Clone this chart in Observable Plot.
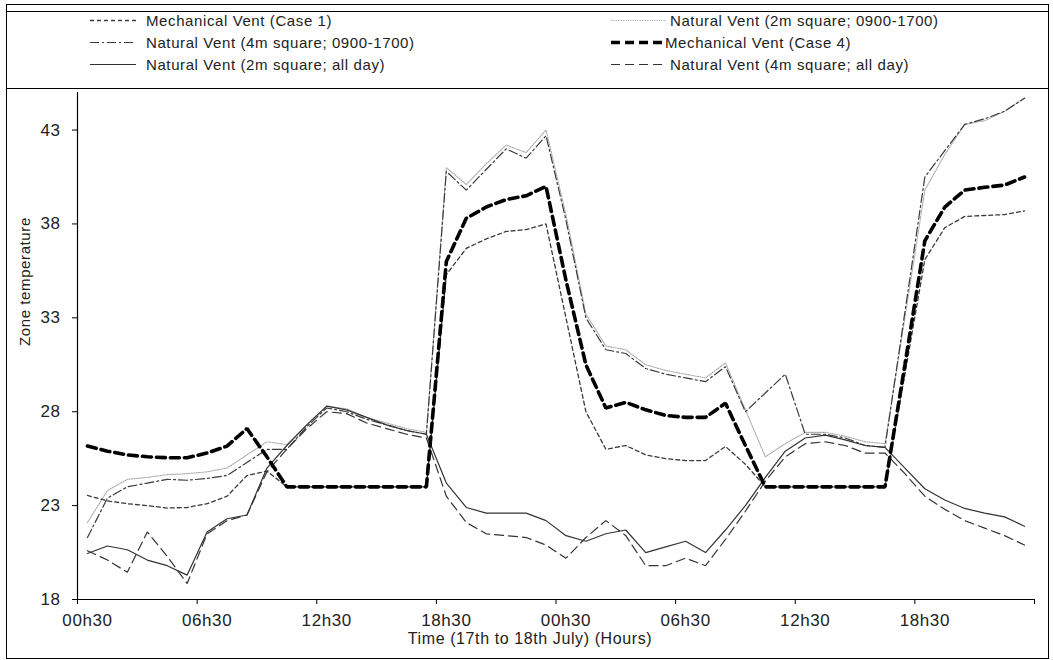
<!DOCTYPE html>
<html>
<head>
<meta charset="utf-8">
<script src="https://cdn.jsdelivr.net/npm/d3@7"></script>
<script src="https://cdn.jsdelivr.net/npm/@observablehq/plot@0.6"></script>
<style>
  html, body { margin: 0; padding: 0; background: #fff; }
  #page { position: relative; width: 1053px; height: 660px; overflow: hidden; background: #fff;
          font-family: "Liberation Sans", Arial, sans-serif; color: #222; }
  #outer { position: absolute; left: 6px; top: 4px; width: 1043px; height: 655px; border: 1px solid #000; box-sizing: border-box; }
  #legend { position: absolute; left: 6px; top: 11px; width: 1043px; height: 78px; border: 1px solid #000; box-sizing: border-box; background: #fff; }
  .item { position: absolute; height: 20px; display: flex; align-items: center; font-size: 15px; letter-spacing: 0.6px; white-space: nowrap; }
  .item svg { display: block; }
  #chart { position: absolute; left: 0; top: 88px; }
</style>
</head>
<body>
<div id="page">
  <div id="outer"></div>
  <div id="legend"></div>
  <div id="chart"></div>
</div>
<script>
// ---- data (hourly, 00h30 17th July to 23h30 18th July) ----
const xTickLabels = ["00h30", "06h30", "12h30", "18h30", "00h30", "06h30", "12h30", "18h30"];
const yTicks = [18, 23, 28, 33, 38, 43];

const seriesNames = [
  "Mechanical Vent (Case 1)",
  "Natural Vent (2m square; 0900-1700)",
  "Natural Vent (4m square; 0900-1700)",
  "Mechanical Vent (Case 4)",
  "Natural Vent (2m square; all day)",
  "Natural Vent (4m square; all day)"
];

const mechCase1 = [23.54, 23.25, 23.1, 23.0, 22.87, 22.9, 23.1, 23.5, 24.6, 24.84, 24.0, 24.0,
  24.0, 24.0, 24.0, 24.0, 24.0, 24.0, 35.3, 36.7, 37.2, 37.6, 37.7, 38.0,
  33.0, 28.0, 26.0, 26.2, 25.7, 25.5, 25.4, 25.4, 26.15, 25.2, 24.0, 24.0,
  24.0, 24.0, 24.0, 24.0, 24.0, 30.0, 36.1, 37.8, 38.4, 38.45, 38.5, 38.7];

const nat2mDay = [22.1, 23.8, 24.4, 24.5, 24.65, 24.7, 24.8, 25.0, 25.7, 26.4, 26.25, 27.3,
  28.3, 28.15, 27.7, 27.4, 27.1, 26.9, 41.0, 40.1, 41.2, 42.2, 41.8, 43.0,
  38.5, 33.2, 31.5, 31.3, 30.5, 30.2, 30.0, 29.8, 30.6, 28.1, 25.6, 26.3,
  26.9, 26.9, 26.7, 26.4, 26.3, 33.0, 39.8, 41.7, 43.3, 43.5, 44.0, 44.7];

const nat4mDay = [21.3, 23.4, 24.0, 24.2, 24.4, 24.35, 24.45, 24.6, 25.3, 26.0, 26.0, 27.2,
  28.2, 28.0, 27.6, 27.3, 27.0, 26.8, 40.8, 39.8, 40.9, 42.0, 41.5, 42.7,
  38.2, 33.0, 31.3, 31.1, 30.3, 30.0, 29.8, 29.6, 30.4, 28.0, 29.0, 30.0,
  26.8, 26.8, 26.6, 26.2, 26.1, 33.3, 40.5, 41.9, 43.3, 43.6, 44.0, 44.7];

const mechCase4 = [26.17, 25.9, 25.7, 25.6, 25.55, 25.55, 25.8, 26.17, 27.1, 25.6, 24.0, 24.0,
  24.0, 24.0, 24.0, 24.0, 24.0, 24.0, 36.0, 38.3, 38.9, 39.3, 39.5, 40.0,
  35.0, 30.5, 28.2, 28.5, 28.1, 27.8, 27.7, 27.7, 28.45, 26.2, 24.0, 24.0,
  24.0, 24.0, 24.0, 24.0, 24.0, 30.5, 37.1, 38.9, 39.8, 39.95, 40.07, 40.5];

const nat2mAll = [20.45, 20.85, 20.65, 20.1, 19.8, 19.3, 21.6, 22.3, 22.5, 25.0, 26.2, 27.3,
  28.3, 28.1, 27.7, 27.3, 27.0, 26.8, 24.2, 22.9, 22.6, 22.6, 22.6, 22.2,
  21.4, 21.1, 21.5, 21.7, 20.5, 20.8, 21.1, 20.5, 21.7, 23.0, 24.5, 25.9,
  26.6, 26.75, 26.5, 26.2, 26.1, 25.0, 23.9, 23.3, 22.85, 22.6, 22.4, 21.9];

const nat4mAll = [20.6, 20.1, 19.45, 21.6, 20.3, 18.85, 21.5, 22.2, 22.5, 24.8, 26.0, 27.1,
  28.0, 27.9, 27.4, 27.1, 26.8, 26.6, 23.5, 22.1, 21.5, 21.4, 21.3, 20.9,
  20.2, 21.3, 22.2, 21.4, 19.8, 19.8, 20.2, 19.8, 21.2, 22.7, 24.3, 25.6,
  26.3, 26.4, 26.2, 25.8, 25.8, 24.7, 23.5, 22.8, 22.2, 21.8, 21.4, 20.9];

const seriesValues = [mechCase1, nat2mDay, nat4mDay, mechCase4, nat2mAll, nat4mAll];

// ---- styles ----
const styles = [
  {stroke: "#3a3a3a", strokeWidth: 1.3, dash: "4,3"},
  {stroke: "#a8a8a8", strokeWidth: 1.1, dash: "1.2,1.2"},
  {stroke: "#3a3a3a", strokeWidth: 1.2, dash: "9,3,2,3"},
  {stroke: "#000000", strokeWidth: 3.6, dash: "9,5"},
  {stroke: "#333333", strokeWidth: 1.2, dash: null},
  {stroke: "#333333", strokeWidth: 1.2, dash: "9,5"}
];

// ---- legend ----
const legend = document.getElementById("legend");
const legendPos = [
  {left: 83, top: -2}, {left: 604, top: -2},
  {left: 83, top: 20}, {left: 604, top: 20},
  {left: 83, top: 42}, {left: 604, top: 42}
];
const sampleW = [[46, 10], [54, 5], [46, 10], [54, 0], [46, 10], [56, 3]];
seriesNames.forEach((name, k) => {
  const s = styles[k];
  const div = document.createElement("div");
  div.className = "item";
  div.style.left = legendPos[k].left + "px";
  div.style.top = legendPos[k].top + "px";
  const w = sampleW[k][0];
  const svg = `<svg width="${w}" height="20"><line x1="0" x2="${w}" y1="10.5" y2="10.5" stroke="${s.stroke}" stroke-width="${s.strokeWidth}" ${s.dash ? `stroke-dasharray="${s.dash}"` : ""}/></svg>`;
  div.innerHTML = svg + `<span style="margin-left:${sampleW[k][1]}px">${name}</span>`;
  legend.appendChild(div);
});

// ---- chart ----
const idx = d3.range(mechCase1.length);
const tickBounds = d3.range(0, idx.length + 1, 6).map(d => d - 0.5);
const labelPos = d3.range(0, idx.length, 6);

const lineMarks = [];
const order = [1, 2, 0, 4, 5, 3];
order.forEach(k => {
  const s = styles[k];
  const data = idx.map(i => ({i, v: seriesValues[k][i]}));
  lineMarks.push(Plot.line(data, {
    x: "i", y: "v", stroke: s.stroke, strokeWidth: s.strokeWidth,
    strokeDasharray: s.dash || undefined, strokeLinejoin: "miter"
  }));
});

const chart = Plot.plot({
  width: 1053,
  height: 572,
  marginLeft: 77,
  marginRight: 19,
  marginTop: 4,
  marginBottom: 61,
  x: {domain: [-0.5, idx.length - 0.5]},
  y: {domain: [18, 45]},
  style: {fontFamily: "'Liberation Sans', Arial, sans-serif", fontSize: "17px", color: "#222", background: "transparent", letterSpacing: "0.6px"},
  marks: [
    Plot.axisY(yTicks, {tickSize: 5, tickPadding: 12, label: null, fontSize: 17, stroke: "#000"}),
    Plot.axisX(tickBounds, {tickSize: 5, tickFormat: () => "", label: null, stroke: "#000"}),
    Plot.axisX(labelPos, {tickSize: 0, tickPadding: 14, tickFormat: d => xTickLabels[Math.round(d / 6)], label: null, fontSize: 17}),
    Plot.ruleY([18], {stroke: "#000", strokeWidth: 1.2}),
    Plot.ruleX([-0.5], {stroke: "#000", strokeWidth: 1.2}),
    ...lineMarks,
    Plot.text(["Zone temperature"], {frameAnchor: "left", dx: -52, rotate: -90, fontSize: 15, fill: "#222"}),
    Plot.text(["Time (17th to 18th July) (Hours)"], {frameAnchor: "bottom", dy: 44, dx: -26, fontSize: 16, fill: "#222"})
  ]
});
document.getElementById("chart").appendChild(chart);
</script>
</body>
</html>
